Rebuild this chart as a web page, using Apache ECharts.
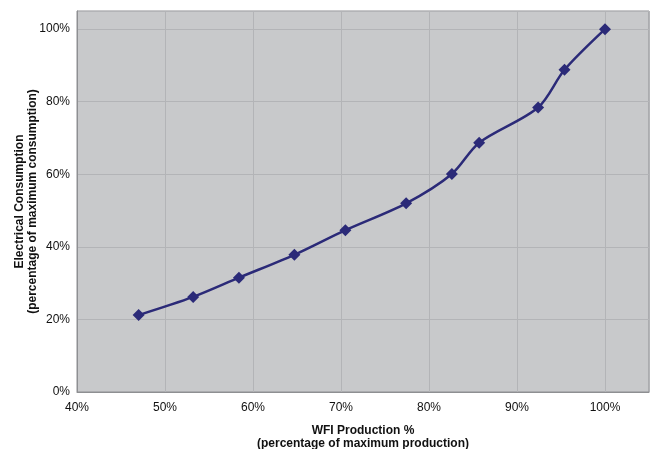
<!DOCTYPE html>
<html>
<head>
<meta charset="utf-8">
<script src="https://cdn.jsdelivr.net/npm/echarts@6/dist/echarts.min.js"></script>
<style>
  html, body { margin: 0; padding: 0; background: #ffffff; }
  #chart { width: 653px; height: 449px; }
</style>
</head>
<body>
<div id="chart"></div>
<script>
// WFI production (% of max) vs electrical consumption (% of max)
const production = [47.0, 53.2, 58.4, 64.7, 70.5, 77.4, 82.6, 85.7, 92.4, 95.4, 100];
const consumption = [21.2, 26.2, 31.5, 37.8, 44.6, 52.0, 60.1, 68.7, 78.4, 88.8, 100];

const xTicks = [40, 50, 60, 70, 80, 90, 100];
const yTicks = [0, 20, 40, 60, 80, 100];

const points = production.map((p, i) => [p, consumption[i]]);

const FONT = 'Liberation Sans, Arial, sans-serif';
const pct = (list) => (v) => (list.includes(Math.round(v)) ? Math.round(v) + '%' : '');

const chart = echarts.init(document.getElementById('chart'));
chart.setOption({
  animation: false,
  backgroundColor: '#ffffff',
  grid: {
    left: 77, right: 4, top: 11, bottom: 57,
    outerBoundsMode: 'none',
    containLabel: false,
    show: true,
    backgroundColor: '#c8c9cb',
    borderColor: '#8e8f92',
    borderWidth: 1
  },
  xAxis: {
    type: 'value',
    min: 40, max: 105, interval: 10,
    name: 'WFI Production %\n(percentage of maximum production)',
    nameLocation: 'middle',
    nameGap: 32,
    nameTextStyle: { fontFamily: FONT, fontSize: 12, fontWeight: 'bold', color: '#111', lineHeight: 13 },
    axisLine: { show: true, lineStyle: { color: '#8e8f92' } },
    axisTick: { show: false },
    axisLabel: { fontFamily: FONT, fontSize: 12, color: '#111', margin: 10, formatter: pct(xTicks) },
    splitLine: { show: true, lineStyle: { color: '#b3b4b7', width: 1 } }
  },
  yAxis: {
    type: 'value',
    min: 0, max: 105, interval: 20,
    name: 'Electrical Consumption\n(percentage of maximum consumption)',
    nameLocation: 'middle',
    nameGap: 38,
    nameMoveOverlap: false,
    nameTextStyle: { fontFamily: FONT, fontSize: 12, fontWeight: 'bold', color: '#111', lineHeight: 13 },
    axisLine: { show: true, lineStyle: { color: '#8e8f92' } },
    axisTick: { show: false },
    axisLabel: { fontFamily: FONT, fontSize: 12, color: '#111', margin: 7, formatter: pct(yTicks) },
    splitLine: { show: true, lineStyle: { color: '#b3b4b7', width: 1 } }
  },
  series: [{
    type: 'line',
    data: points,
    smooth: 0.3,
    symbol: 'diamond',
    symbolSize: 12,
    lineStyle: { color: '#2b2a78', width: 2.5 },
    itemStyle: { color: '#2b2a78' }
  }]
});
</script>
</body>
</html>
